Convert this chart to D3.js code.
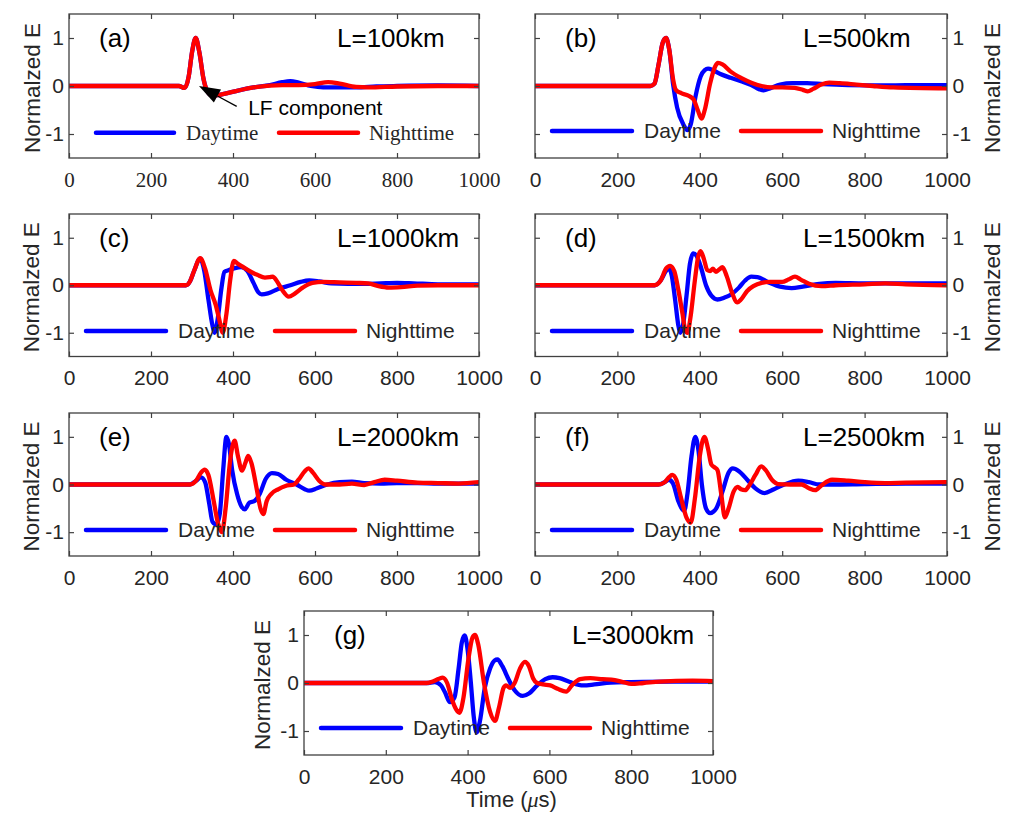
<!DOCTYPE html>
<html><head><meta charset="utf-8">
<script src="https://cdn.jsdelivr.net/npm/d3@7"></script>
<style>body{margin:0;background:#fff} svg{display:block}</style>
</head><body><svg id="chart" width="1011" height="817"></svg>
<script>
const xTicks = [0, 200, 400, 600, 800, 1000];
const yTicks = [-1, 0, 1];
const panelLabels = ["(a)", "(b)", "(c)", "(d)", "(e)", "(f)", "(g)"];
const distanceLabels = ["L=100km", "L=500km", "L=1000km", "L=1500km", "L=2000km", "L=2500km", "L=3000km"];
const seriesNames = ["Daytime", "Nighttime"];
const yAxisTitle = "Normalzed E";
const annotationText = "LF component";

// [time (µs), normalized E]
const dayA = [[0,0],[268,0],[282,-0.04],[292,0.2],[300,0.7],[309,1.0],[318,0.7],[328,0.15],[338,-0.12],[350,-0.2],[375,-0.17],[410,-0.1],[450,-0.03],[490,0.02],[520,0.08],[540,0.1],[560,0.07],[590,0],[620,-0.03],[660,-0.03],[700,-0.03],[750,-0.01],[800,0],[900,0.01],[1000,0]];
const nightA = [[0,0],[268,0],[282,-0.04],[292,0.2],[300,0.7],[309,1.0],[318,0.7],[328,0.15],[338,-0.12],[350,-0.2],[375,-0.17],[410,-0.1],[450,-0.03],[490,0.01],[520,0.02],[560,0.02],[600,0.04],[632,0.08],[660,0.05],[700,-0.02],[730,-0.03],[800,-0.01],[900,0],[1000,0]];

const dayB = [[0,0],[280,0],[290,0.05],[300,0.45],[310,0.9],[318,1.0],[326,0.75],[335,0.05],[345,-0.45],[360,-0.8],[370,-0.92],[378,-0.8],[390,-0.2],[402,0.2],[412,0.33],[420,0.36],[432,0.33],[450,0.25],[475,0.17],[500,0.1],[525,0.02],[545,-0.07],[555,-0.09],[570,-0.05],[595,0.03],[625,0.06],[660,0.06],[700,0.04],[760,0.02],[850,0.01],[900,0.02],[1000,0.02]];
const nightB = [[0,0],[280,0],[290,0.05],[300,0.45],[310,0.9],[318,1.0],[326,0.75],[335,0.15],[342,-0.08],[355,-0.15],[372,-0.2],[385,-0.28],[395,-0.5],[404,-0.68],[412,-0.5],[425,0.05],[437,0.4],[444,0.48],[455,0.45],[475,0.3],[500,0.17],[525,0.07],[550,0.0],[575,-0.03],[600,-0.03],[630,-0.04],[650,-0.08],[662,-0.11],[675,-0.06],[695,0.03],[714,0.07],[740,0.06],[780,0.03],[820,0],[870,-0.03],[1000,-0.05]];

const dayC = [[0,0],[285,0],[295,0.08],[305,0.3],[320,0.56],[330,0.3],[340,-0.3],[350,-0.85],[355,-1.0],[362,-0.75],[372,-0.05],[379,0.28],[390,0.32],[405,0.36],[420,0.38],[435,0.3],[450,0.05],[462,-0.15],[470,-0.19],[485,-0.17],[510,-0.08],[540,0],[565,0.07],[586,0.1],[610,0.08],[640,0.04],[680,0.03],[720,0.03],[760,0.04],[800,0.05],[840,0.04],[900,0.02],[1000,0.02]];
const nightC = [[0,0],[285,0],[295,0.08],[305,0.3],[320,0.57],[332,0.35],[345,-0.1],[358,-0.42],[366,-0.7],[375,-1.0],[384,-0.6],[393,0.1],[402,0.51],[412,0.45],[425,0.38],[440,0.3],[459,0.22],[478,0.16],[490,0.17],[497,0.18],[506,0.1],[520,-0.1],[536,-0.24],[550,-0.18],[570,-0.05],[594,0.05],[620,0.07],[660,0.06],[700,0.05],[730,0.04],[755,-0.02],[780,-0.05],[810,-0.04],[850,-0.01],[900,0],[1000,0]];

const dayD = [[0,0],[290,0],[305,0.1],[318,0.3],[325,0.36],[332,0.2],[340,-0.3],[348,-0.85],[353,-1.0],[360,-0.8],[368,-0.2],[376,0.45],[384,0.67],[392,0.62],[402,0.4],[415,0.0],[428,-0.22],[443,-0.3],[460,-0.26],[475,-0.2],[495,-0.05],[510,0.1],[525,0.18],[540,0.17],[565,0.07],[595,-0.03],[623,-0.06],[650,-0.03],[690,0.03],[730,0.05],[800,0.04],[900,0.04],[1000,0.04]];
const nightD = [[0,0],[290,0],[305,0.1],[318,0.35],[328,0.41],[338,0.3],[348,-0.1],[358,-0.6],[365,-0.95],[370,-1.0],[377,-0.7],[388,0.1],[396,0.6],[402,0.72],[410,0.55],[418,0.32],[425,0.3],[432,0.35],[439,0.28],[447,0.33],[455,0.38],[465,0.2],[478,-0.15],[491,-0.36],[500,-0.3],[515,-0.12],[530,-0.02],[550,0.05],[570,0.07],[600,0.07],[615,0.12],[631,0.18],[645,0.12],[665,0.03],[696,-0.02],[730,0],[800,0.02],[850,0.04],[900,0.02],[1000,0]];

const dayE = [[0,0],[295,0],[310,0.08],[322,0.15],[332,0.05],[342,-0.4],[350,-0.78],[360,-0.84],[368,-0.6],[376,0.3],[384,1.0],[390,0.85],[398,0.3],[410,-0.2],[420,-0.45],[429,-0.52],[440,-0.38],[452,-0.35],[465,-0.2],[480,0.12],[495,0.24],[510,0.22],[530,0.1],[555,0],[575,-0.1],[586,-0.13],[605,-0.08],[630,0],[660,0.05],[690,0.06],[720,0.03],[760,0.02],[800,0.03],[850,0.03],[900,0.02],[1000,0.02]];
const nightE = [[0,0],[295,0],[310,0.08],[322,0.25],[331,0.31],[340,0.2],[352,-0.3],[363,-0.8],[373,-1.0],[382,-0.5],[393,0.5],[404,0.92],[412,0.6],[422,0.29],[430,0.45],[437,0.6],[445,0.45],[458,-0.1],[467,-0.5],[474,-0.62],[482,-0.35],[493,-0.2],[510,-0.1],[528,-0.03],[549,0],[560,0.1],[575,0.28],[584,0.34],[595,0.25],[610,0.08],[627,0],[660,0],[690,0.02],[720,-0.01],[745,0.05],[770,0.1],[800,0.08],[850,0.04],[900,0.03],[950,0.02],[1000,0.05]];

const dayF = [[0,0],[300,0],[315,0.05],[325,0.1],[335,0.02],[348,-0.35],[362,-0.55],[370,-0.2],[380,0.6],[389,1.0],[397,0.7],[405,0.0],[415,-0.5],[425,-0.6],[440,-0.5],[455,-0.15],[470,0.25],[480,0.34],[495,0.28],[515,0.1],[535,-0.08],[557,-0.18],[580,-0.1],[605,0],[639,0.08],[665,0.05],[690,0],[720,0],[800,0.01],[900,0.02],[1000,0.02]];
const nightF = [[0,0],[300,0],[315,0.05],[325,0.15],[333,0.2],[343,0.1],[355,-0.3],[368,-0.7],[378,-0.8],[388,-0.3],[400,0.6],[411,1.0],[420,0.75],[428,0.42],[436,0.36],[443,0.3],[452,-0.2],[461,-0.69],[470,-0.5],[482,-0.15],[492,-0.05],[500,-0.1],[510,-0.12],[520,-0.02],[535,0.2],[549,0.38],[560,0.3],[575,0.1],[590,0.01],[620,0],[647,0],[665,-0.08],[680,-0.12],[695,-0.02],[721,0.1],[760,0.08],[800,0.05],[850,0.03],[900,0.04],[1000,0.05]];

const dayG = [[0,0],[300,0],[320,0.02],[335,-0.05],[345,-0.2],[357,-0.4],[368,-0.3],[378,0.3],[386,0.85],[393,0.99],[400,0.7],[408,0.0],[415,-0.7],[422,-1.03],[430,-0.8],[442,-0.1],[455,0.3],[466,0.47],[473,0.49],[485,0.35],[500,0.08],[515,-0.15],[535,-0.27],[550,-0.22],[570,-0.05],[590,0.08],[608,0.12],[625,0.1],[650,0.02],[683,-0.05],[710,-0.03],[750,0.01],[800,0.02],[900,0.03],[1000,0.03]];
const nightG = [[0,0],[300,0],[315,0.03],[330,0.09],[339,0.11],[350,0.0],[362,-0.35],[372,-0.55],[380,-0.62],[390,-0.3],[402,0.5],[412,0.95],[418,1.0],[426,0.8],[440,0.0],[455,-0.6],[467,-0.79],[477,-0.5],[488,-0.1],[494,-0.05],[504,-0.1],[515,0.0],[528,0.3],[540,0.44],[550,0.35],[560,0.1],[570,0.0],[585,-0.03],[602,-0.05],[620,-0.12],[641,-0.18],[655,-0.05],[675,0.08],[700,0.1],[730,0.08],[760,0.06],[780,0.02],[800,-0.02],[830,0],[870,0.03],[950,0.05],[1000,0.04]];

const daySeries = [dayA, dayB, dayC, dayD, dayE, dayF, dayG];
const nightSeries = [nightA, nightB, nightC, nightD, nightE, nightF, nightG];

// ---------- layout (positions and styles) ----------
const SANS = "'Liberation Sans', Arial, sans-serif";
const SERIF = "'Liberation Serif', 'Times New Roman', serif";
const BLUE = "#0000ff", RED = "#ff0000", AX = "#404040", TXT = "#262626";
const layout = [
  {x:69,  y:14,    w:410, h:144,   side:"left",  serif:true, ylab:37.5},
  {x:535, y:14,    w:412, h:144,   side:"right", ylab:44.7},
  {x:69,  y:214,   w:410, h:142.5, side:"left",  ylab:38},
  {x:535, y:214,   w:412, h:142.5, side:"right", ylab:44.7},
  {x:69,  y:413,   w:410, h:143,   side:"left",  ylab:38},
  {x:535, y:413,   w:412, h:143,   side:"right", ylab:44.7},
  {x:304, y:611,   w:409, h:144,   side:"left",  ylab:42, xlabel:true}
];

const svg = d3.select("#chart");
const defs = svg.append("defs");

layout.forEach((L, i) => {
  const g = svg.append("g").attr("transform", `translate(${L.x},${L.y})`);
  const x = d3.scaleLinear().domain([0, 1000]).range([0, L.w]);
  const y = d3.scaleLinear().domain([-1.5, 1.5]).range([L.h, 0]);

  defs.append("clipPath").attr("id", "clip" + i)
    .append("rect").attr("width", L.w).attr("height", L.h);

  const line = d3.line().x(d => x(d[0])).y(d => y(d[1])).curve(d3.curveMonotoneX);
  const plot = g.append("g").attr("clip-path", `url(#clip${i})`);
  plot.append("path").datum(daySeries[i]).attr("d", line)
    .attr("fill", "none").attr("stroke", BLUE).attr("stroke-width", 4.3)
    .attr("stroke-linejoin", "round").attr("stroke-linecap", "round");
  plot.append("path").datum(nightSeries[i]).attr("d", line)
    .attr("fill", "none").attr("stroke", RED).attr("stroke-width", 4.3)
    .attr("stroke-linejoin", "round").attr("stroke-linecap", "round");

  // axes
  const xFont = L.serif ? SERIF : SANS;
  const ax = g.append("g").attr("transform", `translate(0,${L.h})`)
    .call(d3.axisBottom(x).tickValues(xTicks).tickSizeInner(-5).tickSizeOuter(0).tickPadding(13.6)
      .tickFormat(d => String(d)));
  ax.selectAll("text").attr("font-family", xFont).attr("font-size", 21).attr("fill", TXT);
  const axTop = g.append("g")
    .call(d3.axisTop(x).tickValues(xTicks).tickSizeInner(-5).tickSizeOuter(0).tickFormat(""));
  const yMain = L.side === "left" ? d3.axisLeft(y) : d3.axisRight(y);
  const ay = g.append("g").attr("transform", L.side === "left" ? "translate(0,0)" : `translate(${L.w},0)`)
    .call(yMain.tickValues(yTicks).tickSizeInner(-5).tickSizeOuter(0).tickPadding(L.side === "left" ? 5 : 5.5)
      .tickFormat(d => d === -1 ? "-1" : String(d)));
  ay.selectAll("text").attr("font-family", SANS).attr("font-size", 21).attr("fill", TXT);
  const yOther = L.side === "left" ? d3.axisRight(y) : d3.axisLeft(y);
  const ay2 = g.append("g").attr("transform", L.side === "left" ? `translate(${L.w},0)` : "translate(0,0)")
    .call(yOther.tickValues(yTicks).tickSizeInner(-5).tickSizeOuter(0).tickFormat(""));
  [ax, axTop, ay, ay2].forEach(a => {
    a.select(".domain").remove();
    a.selectAll("line").attr("stroke", AX).attr("stroke-width", 1.2);
  });

  g.append("rect").attr("width", L.w).attr("height", L.h)
    .attr("fill", "none").attr("stroke", AX).attr("stroke-width", 1.3);

  // y-axis title
  const yc = L.h / 2 + 2;
  const ylx = L.side === "left" ? -L.ylab : L.w + L.ylab;
  g.append("text").attr("transform", `translate(${ylx},${yc}) rotate(-90)`)
    .attr("text-anchor", "middle").attr("dy", "0.36em")
    .attr("font-family", SANS).attr("font-size", 22.5).attr("fill", TXT)
    .text(yAxisTitle);

  // panel labels
  g.append("text").attr("x", 30).attr("y", 32.5)
    .attr("font-family", SANS).attr("font-size", 26).attr("fill", "#000").text(panelLabels[i]);
  g.append("text").attr("x", 268).attr("y", 32.5)
    .attr("font-family", SANS).attr("font-size", 26).attr("fill", "#000").text(distanceLabels[i]);

  // legend
  const lg = L.serif
    ? {ly:118.7, b0:27, b1:105, t1:117, r0:210, r1:289, t2:300, font:SERIF}
    : {ly:117,   b0:17, b1:97,  t1:109, r0:206, r1:286, t2:297, font:SANS};
  const leg = g.append("g");
  leg.append("line").attr("x1", lg.b0).attr("x2", lg.b1).attr("y1", lg.ly).attr("y2", lg.ly)
    .attr("stroke", BLUE).attr("stroke-width", 4.5).attr("stroke-linecap", "round");
  leg.append("text").attr("x", lg.t1).attr("y", lg.ly).attr("dy", "0.33em")
    .attr("font-family", lg.font).attr("font-size", 21).attr("fill", TXT).text(seriesNames[0]);
  leg.append("line").attr("x1", lg.r0).attr("x2", lg.r1).attr("y1", lg.ly).attr("y2", lg.ly)
    .attr("stroke", RED).attr("stroke-width", 4.5).attr("stroke-linecap", "round");
  leg.append("text").attr("x", lg.t2).attr("y", lg.ly).attr("dy", "0.33em")
    .attr("font-family", lg.font).attr("font-size", 21).attr("fill", TXT).text(seriesNames[1]);

  // annotation in (a)
  if (i === 0) {
    const tip = [x(317), y(0)], tail = [x(409), y(-0.425)];
    const dx = tail[0] - tip[0], dy = tail[1] - tip[1];
    const len = Math.hypot(dx, dy), ux = dx / len, uy = dy / len;
    const hl = 21, hw = 7.5;
    const bx = tip[0] + ux * hl, by = tip[1] + uy * hl;
    g.append("line").attr("x1", bx).attr("y1", by).attr("x2", tail[0]).attr("y2", tail[1])
      .attr("stroke", "#000").attr("stroke-width", 1.3);
    g.append("path")
      .attr("d", `M${tip[0]},${tip[1]}L${bx - uy * hw},${by + ux * hw}L${bx + uy * hw},${by - ux * hw}Z`)
      .attr("fill", "#000");
    g.append("text").attr("x", x(437)).attr("y", y(-0.6))
      .attr("font-family", SANS).attr("font-size", 21).attr("fill", "#000").text(annotationText);
  }

  // x-axis title
  if (L.xlabel) {
    const t = g.append("text").attr("x", L.w / 2 + 3).attr("y", 196)
      .attr("text-anchor", "middle").attr("font-family", SANS).attr("font-size", 22).attr("fill", TXT);
    t.append("tspan").text("Time (");
    t.append("tspan").attr("font-family", SERIF).attr("font-style", "italic").text("μ");
    t.append("tspan").text("s)");
  }
});
</script>
</body></html>
